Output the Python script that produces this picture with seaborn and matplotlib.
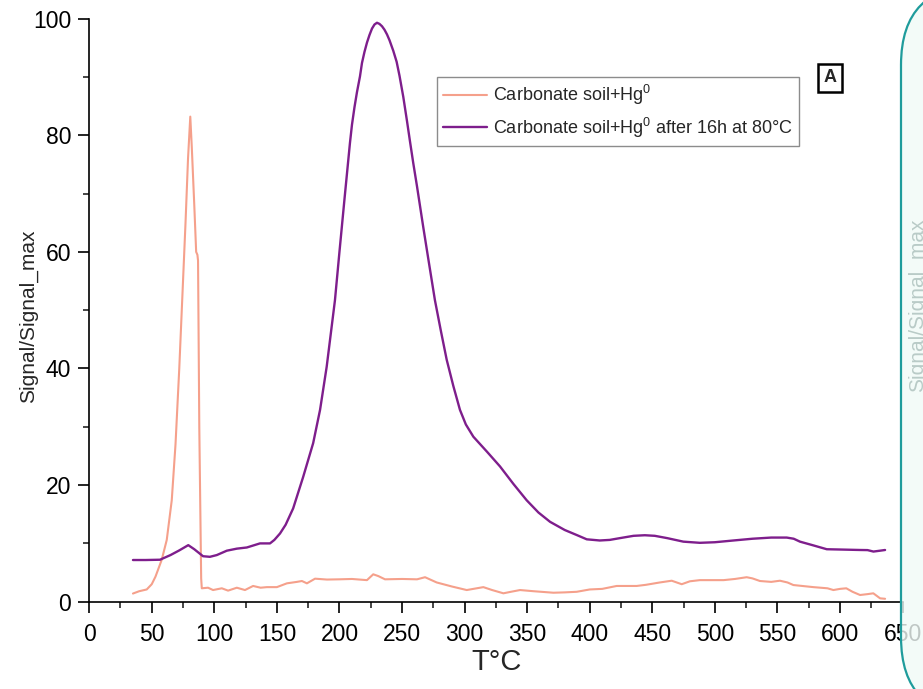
import numpy as np
import pandas as pd
import matplotlib
matplotlib.use("Agg")
import matplotlib.pyplot as plt
import seaborn as sns
from matplotlib.patches import FancyBboxPatch
from matplotlib.transforms import IdentityTransform
from matplotlib.ticker import MultipleLocator

# ---------------- data ----------------
label_a = "Carbonate soil+Hg$^0$"
label_b = "Carbonate soil+Hg$^0$ after 16h at 80°C"

orange_x = [35, 40, 46, 50, 53, 58, 62, 66, 69, 72, 75, 77, 79, 80.8, 82, 84, 85.5, 86.5, 87,
            88, 89.5, 90, 95, 99, 106, 111, 118, 124.5, 131, 137, 142, 150, 158, 166, 170, 174,
            180.5, 190, 200, 210, 222, 227, 231, 236.4, 250, 262, 268.4, 277.7, 290, 301.7, 315,
            322, 331, 337, 344.3, 355, 371, 380, 389.6, 400, 410, 421.5, 437.5, 445, 456, 465.5,
            473.5, 480, 488, 507, 516, 525.4, 530, 536, 545, 552, 558, 562.7, 578.7, 590, 594.7,
            600, 605, 610, 616, 622, 626.6, 632, 636]
orange_y = [1.4, 1.8, 2.1, 3.0, 4.3, 7.2, 10.6, 17.4, 27, 40, 55, 65, 76, 83.2, 78, 68, 60, 59.5, 58.5,
            30, 4, 2.3, 2.4, 2.0, 2.3, 1.9, 2.4, 2.0, 2.7, 2.4, 2.5, 2.5, 3.15, 3.4, 3.55, 3.15,
            3.95, 3.8, 3.84, 3.9, 3.7, 4.7, 4.4, 3.84, 3.9, 3.84, 4.2, 3.3, 2.6, 2.0, 2.5,
            2.0, 1.44, 1.7, 2.0, 1.8, 1.54, 1.6, 1.7, 2.1, 2.2, 2.7, 2.7, 2.9, 3.3, 3.6,
            3.0, 3.5, 3.7, 3.7, 3.9, 4.2, 4.0, 3.55, 3.4, 3.6, 3.3, 2.86, 2.5, 2.3, 2.0,
            2.2, 2.3, 1.7, 1.15, 1.3, 1.44, 0.58, 0.5]

purple_x = [35, 45, 56.6, 65, 72, 79.2, 84, 91, 96.5, 102, 110, 118, 126, 132, 136.5, 144.5, 148,
            152.5, 157, 163, 171, 179, 184.5, 189.8, 196.4, 200, 204, 208.4, 210, 212, 214, 216.4,
            218, 220, 222, 224, 226, 228, 230, 232, 234, 236, 238, 240, 243, 245.7, 248, 251, 254,
            256.4, 259, 262, 267, 271, 276.3, 281, 285.7, 291,
            296.3, 301, 307, 318, 328.3, 339, 349.6, 359, 368.3, 380, 390, 397.6, 408, 416, 424,
            435, 444, 452, 462, 474.8, 488, 500, 514.8, 530, 545, 557.4, 563, 568, 578, 589.4,
            600, 616, 622, 626.7, 632, 636]
purple_y = [7.15, 7.15, 7.2, 8.0, 8.8, 9.7, 9.0, 7.8, 7.7, 8.0, 8.75, 9.1, 9.3, 9.7, 10.0, 10.0, 10.6,
            11.7, 13.2, 16.0, 21.4, 27.2, 32.9, 40.3, 51.7, 60, 69, 78.7, 81.8, 84.8, 87.4, 90.1,
            92.4, 94.3, 95.9, 97.2, 98.3, 99.0, 99.3, 99.1, 98.7, 98.1, 97.3, 96.3, 94.5, 92.6, 90.2,
            86.6, 82.4, 78.9, 75.2, 71.2, 64.2, 58.8, 51.7, 46.5, 41.5, 37,
            32.9, 30.4, 28.3, 25.7, 23.2, 20.2, 17.4, 15.3, 13.7, 12.3, 11.4, 10.7, 10.5, 10.6, 10.9,
            11.3, 11.4, 11.3, 10.9, 10.3, 10.1, 10.2, 10.5, 10.8, 11.0, 11.0, 10.8, 10.3, 9.7, 9.0,
            8.95, 8.87, 8.85, 8.6, 8.75, 8.87]

x_ticks = list(range(0, 651, 50))
y_ticks = [0, 20, 40, 60, 80, 100]

# ---------------- style ----------------
sns.set_style("ticks")
plt.rcParams["font.family"] = ["Liberation Sans", "DejaVu Sans"]
plt.rcParams["mathtext.fontset"] = "custom"
plt.rcParams["mathtext.rm"] = "Liberation Sans"
plt.rcParams["mathtext.it"] = "Liberation Sans:italic"
plt.rcParams["mathtext.bf"] = "Liberation Sans:bold"

df = pd.concat([
    pd.DataFrame({"T": orange_x, "S": orange_y, "series": label_a}),
    pd.DataFrame({"T": purple_x, "S": purple_y, "series": label_b}),
], ignore_index=True)

palette = {label_a: "#F5A08B", label_b: "#7E1E8C"}

fig = plt.figure(figsize=(9.23, 6.89), dpi=100)
ax = fig.add_axes([0.0966, 0.1267, 0.8813, 0.8462])

sns.lineplot(data=df[df.series == label_a], x="T", y="S", color=palette[label_a],
             lw=1.5, ax=ax, estimator=None, sort=False, label=label_a)
sns.lineplot(data=df[df.series == label_b], x="T", y="S", color=palette[label_b],
             lw=1.7, ax=ax, estimator=None, sort=False, label=label_b)

ax.set_xlim(0, 650)
ax.set_ylim(0, 100)
ax.set_xticks(x_ticks)
ax.set_yticks(y_ticks)
ax.xaxis.set_minor_locator(MultipleLocator(25))
ax.yaxis.set_minor_locator(MultipleLocator(10))
ax.tick_params(which="major", direction="out", length=8, width=1.2, labelsize=16.5,
               colors="black")
ax.tick_params(axis="x", which="major", pad=7)
ax.tick_params(axis="y", which="major", pad=5)
ax.tick_params(which="minor", direction="out", length=4.5, width=1.2)
for s in ["top", "right"]:
    ax.spines[s].set_visible(False)
for s in ["left", "bottom"]:
    ax.spines[s].set_linewidth(1.2)
    ax.spines[s].set_color("black")

ax.set_xlabel("T°C", fontsize=21)
ax.set_ylabel("Signal/Signal_max", fontsize=15)
ax.xaxis.set_label_coords(0.501, -0.08)
ax.yaxis.set_label_coords(-0.063, 0.49)

leg = ax.legend(loc="upper left", bbox_to_anchor=(437 / 923, 1 - 77 / 689),
                bbox_transform=fig.transFigure, fontsize=13, frameon=True,
                fancybox=False, framealpha=1, edgecolor="#8c8c8c",
                borderpad=0.35, handlelength=2.4, handletextpad=0.35,
                labelspacing=0.45, borderaxespad=0)
leg.get_frame().set_linewidth(1.0)

# panel label "A"
fig.text(830 / 923, 1 - 78 / 689, "A", ha="center", va="center", fontsize=13,
         fontweight="bold",
         bbox=dict(boxstyle="square,pad=0.3", fc="white", ec="black", lw=1.8))

# neighbouring panel peeking in at the right edge
panel = FancyBboxPatch((901, -28), 149, 732,
                       boxstyle="round,pad=0,rounding_size=80",
                       transform=IdentityTransform(), fc=(0.94, 0.98, 0.97, 0.8),
                       ec="#1f9c9c", lw=1.6, zorder=10)
fig.patches.append(panel)
fig.text(917 / 923, 1 - 305 / 689, "Signal/Signal_max", rotation=90, ha="center",
         va="center", fontsize=15, color="#b9cbc7", zorder=11)

fig.savefig("out.png", dpi=100)
